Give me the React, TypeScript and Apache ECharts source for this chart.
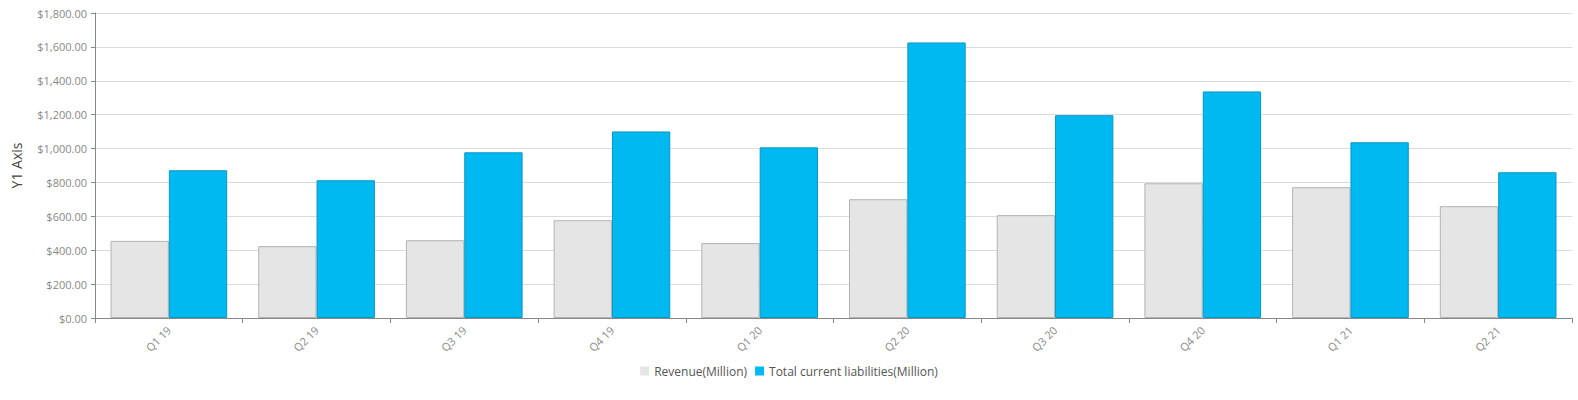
import React, { useEffect, useRef } from "react";
import * as echarts from "echarts";

const categories = ["Q1 19", "Q2 19", "Q3 19", "Q4 19", "Q1 20", "Q2 20", "Q3 20", "Q4 20", "Q1 21", "Q2 21"];
const revenue = [455, 424, 459, 577, 442, 701, 607, 795, 772, 660];
const liabilities = [872, 813, 978, 1101, 1007, 1626, 1197, 1337, 1037, 860];
const seriesNames = ["Revenue(Million)", "Total current liabilities(Million)"];
const yAxisName = "Y1 Axis";

const FONT = "'Open Sans', 'Noto Sans', sans-serif";

export default function App() {
  const ref = useRef<HTMLDivElement>(null);
  useEffect(() => {
    document.body.style.margin = "0";
    const chart = echarts.init(ref.current!, null, { renderer: "svg" });
    chart.setOption({
      animation: false,
      textStyle: { fontFamily: FONT },
      grid: { left: 95, right: 6, top: 13, bottom: 82 },
      legend: {
        bottom: 18,
        left: "center",
        itemWidth: 9,
        itemHeight: 9,
        itemGap: 8,
        icon: "rect",
        itemStyle: { borderWidth: 0 },
        textStyle: { color: "#555", fontSize: 12, fontFamily: FONT },
        data: seriesNames,
      },
      xAxis: {
        type: "category",
        data: categories,
        axisLine: { lineStyle: { color: "#888" } },
        axisTick: { show: true, length: 5, lineStyle: { color: "#888" } },
        axisLabel: { rotate: 45, color: "#888", fontSize: 11, fontFamily: FONT, margin: 10 },
      },
      yAxis: {
        type: "value",
        min: 0,
        max: 1800,
        interval: 200,
        name: yAxisName,
        nameLocation: "middle",
        nameGap: 72,
        nameTextStyle: { color: "#444", fontSize: 14, fontFamily: FONT },
        axisLine: { show: true, lineStyle: { color: "#888" } },
        axisTick: { show: true, length: 4, lineStyle: { color: "#888" } },
        axisLabel: {
          color: "#888",
          fontSize: 11,
          fontFamily: FONT,
          margin: 8,
          formatter: (v: number) =>
            "$" + v.toLocaleString("en-US", { minimumFractionDigits: 2, maximumFractionDigits: 2 }),
        },
        splitLine: { lineStyle: { color: "#dcdcdc" } },
      },
      series: [
        {
          name: seriesNames[0],
          type: "bar",
          data: revenue,
          barGap: "0%",
          barCategoryGap: "21%",
          itemStyle: { color: "#e5e5e5", borderColor: "#b3b3b3", borderWidth: 1 },
        },
        {
          name: seriesNames[1],
          type: "bar",
          data: liabilities,
          barGap: "0%",
          barCategoryGap: "21%",
          itemStyle: { color: "#00b9f1", borderColor: "#0a97c4", borderWidth: 1 },
        },
      ],
    });
    return () => chart.dispose();
  }, []);
  return <div ref={ref} style={{ width: 1578, height: 400 }} />;
}
